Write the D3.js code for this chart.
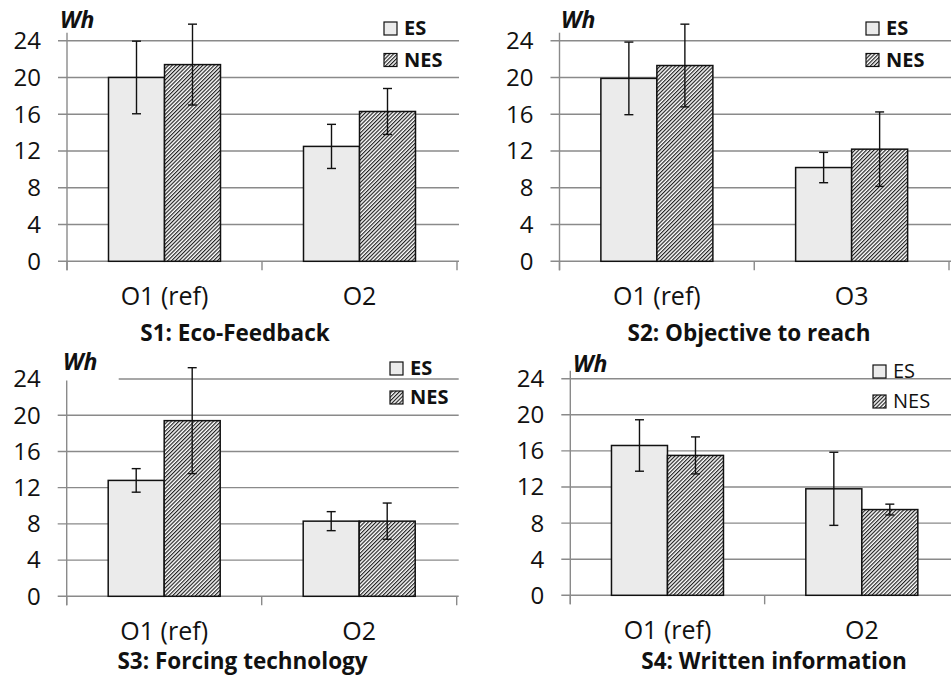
<!DOCTYPE html>
<html><head><meta charset="utf-8">
<script src="https://cdn.jsdelivr.net/npm/d3@7"></script>
<style>
html,body{margin:0;padding:0;background:#fff;}
svg{display:block;}
text{font-family:"Open Sans",sans-serif;fill:#111;}
</style></head>
<body>
<svg id="chart" width="951" height="677"></svg>
<script>
// ---- data ----
const panelTitles = ["S1: Eco-Feedback", "S2: Objective to reach", "S3: Forcing technology", "S4: Written information"];
const panelCategories = [["O1 (ref)", "O2"], ["O1 (ref)", "O3"], ["O1 (ref)", "O2"], ["O1 (ref)", "O2"]];
const seriesNames = ["ES", "NES"];
const esValues  = [[20.0, 12.5], [19.9, 10.2], [12.8, 8.3], [16.6, 11.8]];
const esErrors  = [[3.95, 2.4], [3.95, 1.65], [1.3, 1.05], [2.85, 4.05]];
const nesValues = [[21.4, 16.3], [21.3, 12.2], [19.4, 8.3], [15.5, 9.5]];
const nesErrors = [[4.4, 2.5], [4.5, 4.05], [5.85, 2.0], [2.05, 0.6]];
const yTicks = [0, 4, 8, 12, 16, 20, 24];
const yUnit = "Wh";

// ---- layout ----
const layout = [
  {x0: 67,    right: 457, y0: 261.3, yTop: 40.7, titleX: 235,   titleY: 341, legX: 384, legY: [35, 66.5], legBold: true,  whX: 60,  whY: 28,  mask: false},
  {x0: 559.5, right: 949, y0: 261.3, yTop: 40.7, titleX: 749,   titleY: 341, legX: 866, legY: [35, 66.5], legBold: true,  whX: 561, whY: 28,  mask: false},
  {x0: 66.7,  right: 456.7, y0: 596.3, yTop: 379, titleX: 242.5, titleY: 669, legX: 390, legY: [375, 404], legBold: true,  whX: 63,  whY: 370, mask: true},
  {x0: 570.3, right: 959, y0: 595.3, yTop: 378.7, titleX: 774,  titleY: 669, legX: 873, legY: [378, 408], legBold: false, whX: 573, whY: 372, mask: false}
];

const svg = d3.select("#chart");
const defs = svg.append("defs");
const pat = defs.append("pattern").attr("id", "hatch")
  .attr("patternUnits", "userSpaceOnUse").attr("width", 2.7).attr("height", 2.7)
  .attr("patternTransform", "rotate(45)");
pat.append("rect").attr("width", 2.7).attr("height", 2.7).attr("fill", "#fff");
pat.append("line").attr("x1", 0.6).attr("y1", 0).attr("x2", 0.6).attr("y2", 2.7)
  .attr("stroke", "#111").attr("stroke-width", 1.1);

const fills = ["#ebebeb", "url(#hatch)"];
const gridColor = "#8a8a8a";

layout.forEach((L, p) => {
  const g = svg.append("g");
  const y = d3.scaleLinear().domain([0, 24]).range([L.y0, L.yTop]);
  const x = d3.scaleBand().domain(panelCategories[p]).range([L.x0, L.right]).paddingInner(0).paddingOuter(0);
  const barW = 56;
  const xs = d3.scaleBand().domain(seriesNames).range([-barW, barW]);

  // gridlines
  g.selectAll("line.grid").data(yTicks).join("line")
    .attr("x1", L.x0 - 9).attr("x2", L.right + 2)
    .attr("y1", d => y(d)).attr("y2", d => y(d))
    .attr("stroke", gridColor).attr("stroke-width", 1.4);
  // y axis line
  g.append("line").attr("x1", L.x0).attr("x2", L.x0)
    .attr("y1", y(24) - 8).attr("y2", L.y0 + 9)
    .attr("stroke", gridColor).attr("stroke-width", 1.4);
  // x ticks at band boundaries
  const bounds = panelCategories[p].map(c => x(c)).concat([x(panelCategories[p][panelCategories[p].length - 1]) + x.bandwidth()]);
  g.selectAll("line.xt").data(bounds).join("line")
    .attr("x1", d => d).attr("x2", d => d)
    .attr("y1", L.y0).attr("y2", L.y0 + 9)
    .attr("stroke", gridColor).attr("stroke-width", 1.4);

  // y tick labels
  g.selectAll("text.yt").data(yTicks).join("text")
    .attr("x", L.x0 - 26).attr("y", d => y(d)).attr("dy", "0.35em")
    .attr("text-anchor", "end").attr("font-size", 24).text(d => d);

  // x labels
  g.selectAll("text.xl").data(panelCategories[p]).join("text")
    .attr("x", d => x(d) + x.bandwidth() / 2).attr("y", L.y0 + 44)
    .attr("text-anchor", "middle").attr("font-size", 25).text(d => d);

  // bars
  const rows = panelCategories[p].map((c, i) => [
    {cat: c, s: "ES", v: esValues[p][i], e: esErrors[p][i], k: 0},
    {cat: c, s: "NES", v: nesValues[p][i], e: nesErrors[p][i], k: 1}
  ]).flat();
  const cx = d => x(d.cat) + x.bandwidth() / 2 + xs(d.s);
  g.selectAll("rect.bar").data(rows).join("rect")
    .attr("x", d => cx(d)).attr("width", xs.bandwidth())
    .attr("y", d => y(d.v)).attr("height", d => y(0) - y(d.v))
    .attr("fill", d => fills[d.k]).attr("stroke", "#111").attr("stroke-width", 1.5);

  // error bars
  const ex = d => cx(d) + xs.bandwidth() / 2;
  const eg = g.selectAll("g.err").data(rows).join("g");
  eg.append("line").attr("x1", ex).attr("x2", ex)
    .attr("y1", d => y(d.v + d.e)).attr("y2", d => y(d.v - d.e))
    .attr("stroke", "#111").attr("stroke-width", 1.4);
  [1, -1].forEach(sg => {
    eg.append("line").attr("x1", d => ex(d) - 4.5).attr("x2", d => ex(d) + 4.5)
      .attr("y1", d => y(d.v + sg * d.e)).attr("y2", d => y(d.v + sg * d.e))
      .attr("stroke", "#111").attr("stroke-width", 1.4);
  });

  // mask behind unit label (panel 3)
  if (L.mask) {
    g.append("rect").attr("x", L.x0 - 10).attr("y", L.whY - 20).attr("width", 62).attr("height", y(24) - (L.whY - 20) + 1.5)
      .attr("fill", "#fff");
  }
  g.append("text").attr("x", L.whX).attr("y", L.whY)
    .attr("font-size", 23).attr("font-weight", "bold").attr("font-style", "italic").text(yUnit);

  // legend
  seriesNames.forEach((s, k) => {
    const by = L.legY[k];
    g.append("rect").attr("x", L.legX).attr("y", by - 13).attr("width", 13).attr("height", 13)
      .attr("fill", fills[k]).attr("stroke", "#111").attr("stroke-width", 1.2);
    g.append("text").attr("x", L.legX + 20).attr("y", by)
      .attr("font-size", 20).attr("font-weight", L.legBold ? "bold" : "normal").text(s);
  });

  // title
  g.append("text").attr("x", L.titleX).attr("y", L.titleY).attr("text-anchor", "middle")
    .attr("font-size", 22.5).attr("font-weight", "bold").text(panelTitles[p]);
});
</script>
</body></html>
